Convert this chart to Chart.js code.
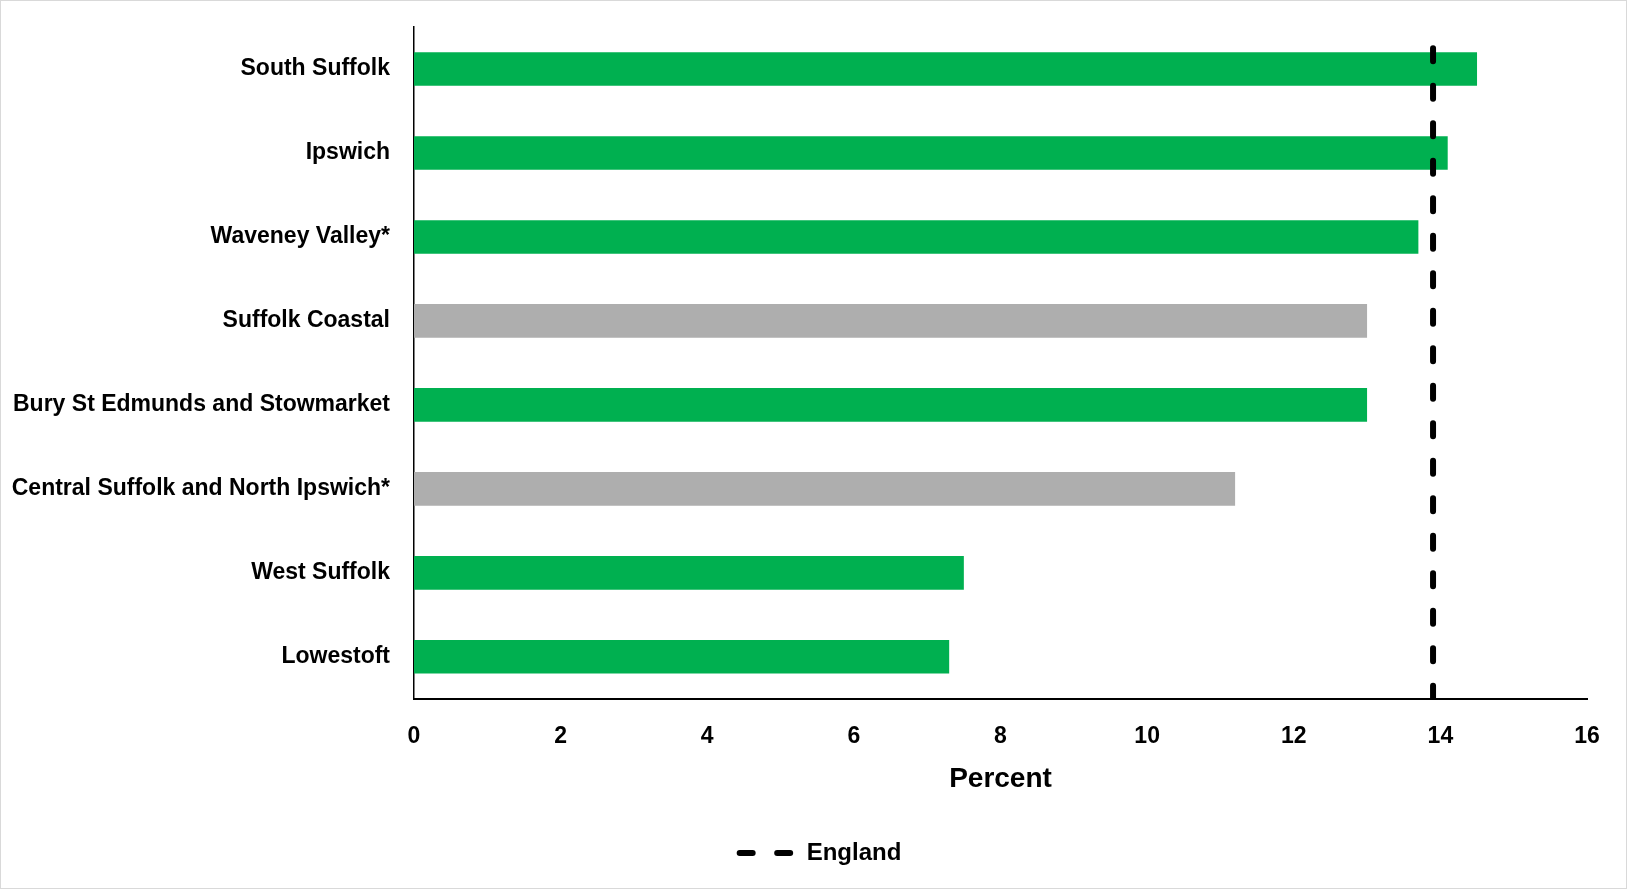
<!DOCTYPE html>
<html>
<head>
<meta charset="utf-8">
<script src="https://cdn.jsdelivr.net/npm/chart.js@4/dist/chart.umd.min.js"></script>
<style>
  html, body { margin: 0; padding: 0; background: #fff; }
  #wrap { width: 1627px; height: 889px; position: relative; }
</style>
</head>
<body>
<div id="wrap"><canvas id="chart"></canvas></div>
<script>
// areas, top to bottom
const areas = [
  'South Suffolk',
  'Ipswich',
  'Waveney Valley*',
  'Suffolk Coastal',
  'Bury St Edmunds and Stowmarket',
  'Central Suffolk and North Ipswich*',
  'West Suffolk',
  'Lowestoft'
];
const percent = [14.5, 14.1, 13.7, 13.0, 13.0, 11.2, 7.5, 7.3];
const englandValue = 13.9;
const xTicks = [0, 2, 4, 6, 8, 10, 12, 14, 16];

// grey = the two areas shown differently in the source
const barColours = ['#00B050', '#00B050', '#00B050', '#AEAEAE', '#00B050', '#AEAEAE', '#00B050', '#00B050'];

const DASH = [13, 24.5];

const frame = {
  id: 'frame',
  afterLayout(chart) {
    // nudge the legend so it sits under the plot area rather than the canvas
    if (chart.legend) {
      chart.legend.left += 21;
      chart.legend.right += 21;
    }
  },
  beforeDraw(chart) {
    const c = chart.ctx;
    c.save();
    c.fillStyle = '#fff';
    c.fillRect(0, 0, chart.width, chart.height);
    c.restore();
  },
  afterDraw(chart) {
    const c = chart.ctx;
    c.save();
    c.strokeStyle = '#d9d9d9';
    c.lineWidth = 1;
    c.strokeRect(0.5, 0.5, chart.width - 1, chart.height - 1);
    c.restore();
  }
};

const bold = (size) => ({ family: '"Liberation Sans", Arial, sans-serif', size: size, weight: 'bold' });

new Chart(document.getElementById('chart'), {
  type: 'bar',
  data: {
    labels: areas,
    datasets: [
      {
        type: 'line',
        label: 'England',
        data: [{ x: englandValue, y: 0 }, { x: englandValue, y: 1 }],
        xAxisID: 'x',
        yAxisID: 'y2',
        borderColor: '#000',
        borderWidth: 6,
        borderDash: DASH,
        borderCapStyle: 'round',
        pointRadius: 0,
        pointStyle: 'line',
        fill: false,
        order: 0
      },
      {
        type: 'bar',
        label: 'Percent',
        data: percent,
        backgroundColor: barColours,
        xAxisID: 'x',
        yAxisID: 'y',
        grouped: false,
        categoryPercentage: 0.8,
        barPercentage: 0.5,
        order: 1
      }
    ]
  },
  options: {
    indexAxis: 'y',
    responsive: true,
    maintainAspectRatio: false,
    animation: false,
    layout: { padding: { left: 12, right: 40, top: 27, bottom: 14 } },
    scales: {
      x: {
        type: 'linear',
        min: 0,
        max: 16,
        afterBuildTicks: (axis) => { axis.ticks = xTicks.map(v => ({ value: v })); },
        afterFit: (s) => { s.height -= 24; },
        grid: { display: false, drawTicks: false },
        border: { display: true, color: '#000', width: 2 },
        ticks: { color: '#000', font: bold(23), padding: 24 },
        title: {
          display: true,
          text: 'Percent',
          color: '#000',
          font: bold(28),
          padding: { top: 12, bottom: 35 }
        }
      },
      y: {
        type: 'category',
        grid: { display: false, drawTicks: false },
        border: { display: true, color: '#000', width: 1.5 },
        ticks: { color: '#000', font: bold(23), padding: 24 },
        afterFit: (s) => { s.width = 402; s.paddingTop = 0; s.paddingBottom = 0; }
      },
      y2: {
        axis: 'y',
        type: 'linear',
        display: false,
        offset: false,
        min: 0,
        max: 1
      }
    },
    plugins: {
      legend: {
        display: true,
        position: 'bottom',
        labels: {
          usePointStyle: true,
          pointStyle: 'line',
          pointStyleWidth: 55,
          boxWidth: 55,
          boxHeight: 20,
          color: '#000',
          font: bold(24),
          padding: 10,
          generateLabels: (chart) => Chart.defaults.plugins.legend.labels.generateLabels(chart)
            .filter(item => item.text === 'England')
            .map(item => Object.assign(item, {
              lineDash: DASH, lineCap: 'round', lineWidth: 6, strokeStyle: '#000'
            }))
        }
      },
      tooltip: { enabled: false }
    }
  },
  plugins: [frame]
});
</script>
</body>
</html>
